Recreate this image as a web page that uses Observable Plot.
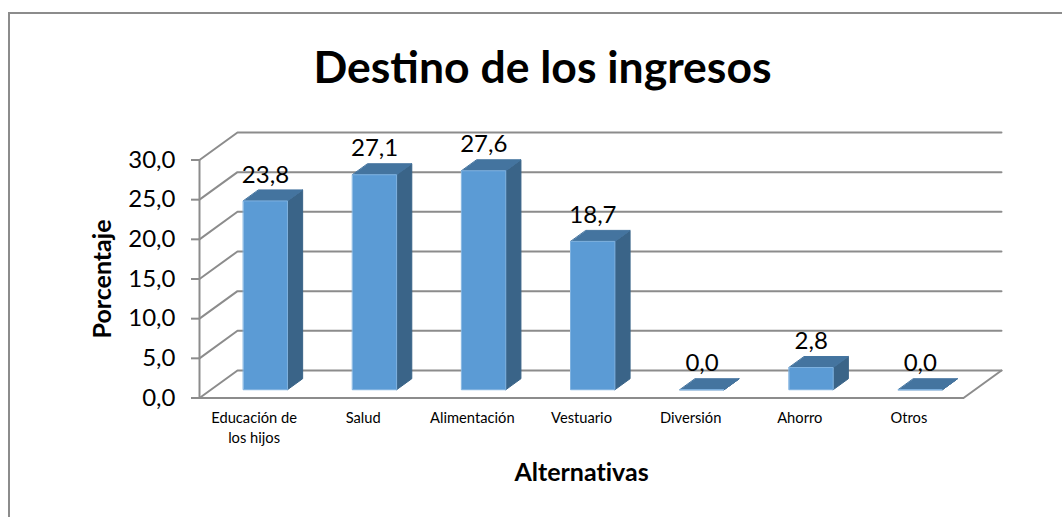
<!DOCTYPE html>
<html><head><meta charset="utf-8">
<script src="https://cdn.jsdelivr.net/npm/d3@7"></script>
<script src="https://cdn.jsdelivr.net/npm/@observablehq/plot@0.6"></script>
<style>
html,body{margin:0;padding:0;background:#fff;overflow:hidden}
#page{position:relative;width:1062px;height:517px;overflow:hidden;font-variant-ligatures:none}
#frame{position:absolute;left:8px;top:12px;width:1100px;height:520px;border:2px solid #8c8c8c;box-sizing:border-box}
#title{position:absolute;left:0;top:0;width:1085px;height:120px;text-align:center;font:700 44.5px/132px Lato,sans-serif;color:#000;margin:0}
#chart{position:absolute;left:0;top:120px}
svg{display:block;font-variant-ligatures:none}
</style></head><body>
<div id="page"><div id="frame"></div><h1 id="title">Destino de los ingresos</h1><div id="chart"></div></div>
<script>
const categories = ["Educación de\nlos hijos","Salud","Alimentación","Vestuario","Diversión","Ahorro","Otros"];
const values = [23.8,27.1,27.6,18.7,0.0,2.8,0.0];
const yTicks = [0,5,10,15,20,25,30];
const yTitle = "Porcentaje";
const xTitle = "Alternativas";

const wallDx = 0.348, wallDy = 3.47;           // oblique depth of the chart box in scale units
const barW = 0.403, d0 = 0.30, d1 = 0.70;      // bar width and its depth span
const comma = v => v.toFixed(1).replace(".", ",");
const pt = (x, v, d, id) => ({x: x + d * wallDx, y: v + d * wallDy, id});

const grid = yTicks.flatMap(v => [pt(0,v,0,v), pt(0,v,1,v), pt(7,v,1,v)]);
const floorFront = [pt(0,0,0), pt(7,0,0), pt(7,0,1)];
const frontFaces = [], sideFaces = [], topFaces = [];
values.forEach((v,i) => {
  const L = i + 0.5 - barW/2, R = i + 0.5 + barW/2;
  frontFaces.push(pt(L,0,d0,i), pt(R,0,d0,i), pt(R,v,d0,i), pt(L,v,d0,i));
  sideFaces.push(pt(R,0,d0,i), pt(R,0,d1,i), pt(R,v,d1,i), pt(R,v,d0,i));
  topFaces.push(pt(L,v,d0,i), pt(R,v,d0,i), pt(R,v,d1,i), pt(L,v,d1,i));
});
const labels = values.map((v,i) => pt(i + 0.5, v, d0, i));
const lineColor = "#8c8c8c";
const poly = (data, fill, stroke) => Plot.line(data, {x:"x", y:"y", z:"id", curve:"linear-closed", fill, stroke, strokeWidth:1});

const plot = Plot.plot({
  width:1062, height:397,
  marginLeft:199, marginRight:99, marginTop:39.5, marginBottom:119.5,
  style:{background:"transparent"},
  x:{type:"linear", domain:[0,7]},
  y:{type:"linear", domain:[0,30]},
  marks:[
    Plot.line(grid, {x:"x", y:"y", z:"id", stroke:lineColor, strokeWidth:2}),
    Plot.line(floorFront, {x:"x", y:"y", stroke:lineColor, strokeWidth:2}),
    Plot.ruleX([0], {y1:0, y2:30, stroke:lineColor, strokeWidth:2}),
    poly(sideFaces, "#3A6488", "#3A6488"),
    poly(topFaces, "#44749F", "#44749F"),
    poly(frontFaces, "#5B9BD5", "#7FB2E0"),
    Plot.text(labels, {x:"x", y:"y", text:(d,i)=>comma(values[i]), dy:-26, fontSize:24, fontFamily:"Lato, sans-serif", fill:"#000", textAnchor:"middle"}),
    Plot.axisY({ticks:yTicks, tickFormat:comma, tickSize:8, tickPadding:16, stroke:lineColor, strokeWidth:2, strokeOpacity:1, fontSize:24, fontFamily:"Lato, sans-serif", color:"#000", label:null}),
    Plot.text([yTitle], {frameAnchor:"left", textAnchor:"middle", dx:-97, rotate:-90, fontSize:25, fontWeight:700, fontFamily:"Lato, sans-serif", fill:"#000"}),
    Plot.axisX({ticks:d3.range(7).map(i=>i+0.5), tickFormat:t=>categories[t-0.5], tickSize:0, tickPadding:11, fontSize:14.7, fontFamily:"Lato, sans-serif", color:"#000", lineHeight:1.36, lineAnchor:"top", label:null}),
    Plot.text([xTitle], {frameAnchor:"bottom", dy:83, fontSize:25, fontWeight:700, fontFamily:"Lato, sans-serif", fill:"#000"})
  ]
});
document.getElementById("chart").appendChild(plot);
</script></body></html>
